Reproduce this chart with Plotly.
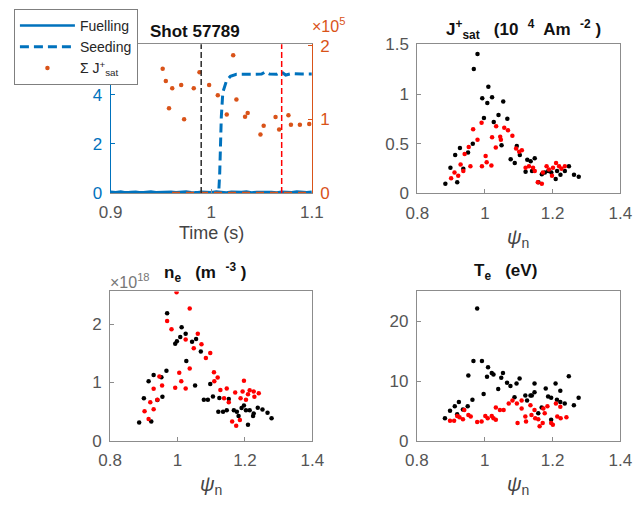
import plotly.graph_objects as go

W, H = 642, 515

# ---------------- data ----------------
# Top-left: time traces (Shot 57789)
fuel_t = [0.900, 0.905, 0.910, 0.915, 0.920, 0.925, 0.930, 0.935, 0.940, 0.945,
          0.950, 0.955, 0.960, 0.965, 0.970, 0.975, 0.980, 0.985, 0.990, 0.995,
          1.000, 1.005, 1.010, 1.015, 1.020, 1.025, 1.030, 1.035, 1.040, 1.045,
          1.050, 1.055, 1.060, 1.065, 1.070, 1.075, 1.080, 1.085, 1.090, 1.095, 1.100]
fuel_v = [0.05, 0.03, 0.06, 0.02, 0.04, 0.05, 0.02, 0.04, 0.06, 0.03,
          0.04, 0.02, 0.05, 0.03, 0.04, 0.06, 0.03, 0.02, 0.05, 0.04,
          0.03, 0.06, 0.04, 0.02, 0.05, 0.03, 0.04, 0.06, 0.02, 0.04,
          0.05, 0.03, 0.04, 0.02, 0.05, 0.04, 0.03, 0.06, 0.04, 0.03, 0.05]

seed_t = [0.900, 0.950, 1.000, 1.0074, 1.0084, 1.0090, 1.0100, 1.0115, 1.0150,
          1.0190, 1.0250, 1.0350, 1.0450, 1.0500, 1.0537, 1.0580, 1.0650,
          1.0696, 1.0740, 1.0800, 1.0900, 1.1000]
seed_v = [0.02, 0.02, 0.02, 0.02, 0.80, 2.00, 3.10, 4.10, 4.55,
          4.75, 4.83, 4.83, 4.82, 4.84, 4.93, 4.84, 4.83,
          4.93, 4.80, 4.86, 4.84, 4.84]

jsum_t = [0.9517, 0.9548, 0.9612, 0.9580, 0.9701, 0.9730, 0.9826, 0.9883, 0.9979,
          1.0065, 1.0154, 1.0218, 1.0250, 1.0336, 1.0362, 1.0489, 1.0521, 1.0639,
          1.0675, 1.0767, 1.0792, 1.0881, 1.0974]
jsum_v = [1.686, 1.521, 1.421, 1.151, 1.464, 1.000, 1.421, 1.639, 1.464,
          1.326, 1.065, 1.868, 1.269, 1.034, 1.086, 0.795, 0.913, 1.030,
          0.860, 1.056, 0.926, 0.926, 0.935]

jzero_t = [0.961, 1.100]
jzero_v = [0.0, 0.0]

event_times = [0.99, 1.07]
event_colors = ["#2b2b2b", "#ff0000"]

# Top-right: J+sat vs psi_n
js_blk_x = [0.883, 0.898, 0.912, 0.918, 0.926, 0.936, 0.950, 0.964, 0.967, 0.978,
            0.992, 0.997, 1.007, 1.010, 1.021, 1.026, 1.040, 1.049, 1.054, 1.066,
            1.076, 1.088, 1.094, 1.103, 1.120, 1.125, 1.135, 1.139, 1.147, 1.158,
            1.168, 1.177, 1.187, 1.196, 1.209, 1.213, 1.223, 1.236, 1.248, 1.263, 1.277]
js_blk_y = [0.097, 0.258, 0.387, 0.113, 0.458, 0.248, 0.413, 0.500, 1.252, 1.403,
            0.958, 0.758, 0.910, 1.074, 0.968, 0.719, 0.790, 0.484, 0.926, 0.752,
            0.345, 0.306, 0.477, 0.387, 0.219, 0.339, 0.323, 0.226, 0.355, 0.113,
            0.194, 0.210, 0.226, 0.210, 0.145, 0.226, 0.187, 0.226, 0.274, 0.187, 0.168]
js_red_x = [0.900, 0.910, 0.921, 0.928, 0.936, 0.940, 0.952, 0.957, 0.965, 0.978,
            0.990, 0.991, 1.002, 1.005, 1.019, 1.021, 1.032, 1.033, 1.045, 1.047,
            1.057, 1.068, 1.081, 1.092, 1.101, 1.109, 1.120, 1.130, 1.142, 1.147,
            1.156, 1.168, 1.171, 1.182, 1.189, 1.201, 1.210, 1.219, 1.226, 1.236, 1.198]
js_red_y = [0.152, 0.210, 0.177, 0.290, 0.226, 0.397, 0.468, 0.274, 0.645, 0.539,
            0.710, 0.274, 0.377, 0.313, 0.281, 0.565, 0.461, 0.677, 0.571, 0.539,
            0.661, 0.635, 0.581, 0.452, 0.419, 0.435, 0.258, 0.274, 0.258, 0.226,
            0.113, 0.097, 0.210, 0.274, 0.242, 0.258, 0.306, 0.274, 0.248, 0.274, 0.177]

# Bottom-left: n_e vs psi_n (x 1e18)
ne_blk_x = [0.886, 0.900, 0.914, 0.922, 0.929, 0.940, 0.952, 0.955, 0.967, 0.969,
            0.993, 0.998, 1.008, 1.012, 1.024, 1.026, 1.043, 1.052, 1.055, 1.069,
            1.078, 1.090, 1.097, 1.105, 1.121, 1.124, 1.135, 1.146, 1.152, 1.167,
            1.176, 1.181, 1.190, 1.197, 1.203, 1.209, 1.214, 1.224, 1.226, 1.238,
            1.252, 1.267, 1.279]
ne_blk_y = [0.314, 0.727, 1.019, 0.331, 1.129, 0.700, 1.091, 0.755, 1.201, 2.187,
            1.664, 1.708, 1.780, 1.945, 1.835, 1.366, 1.697, 0.948, 1.747, 1.532,
            0.705, 0.705, 0.975, 0.760, 0.496, 0.733, 0.496, 0.523, 0.716, 0.523,
            0.496, 0.424, 0.562, 0.606, 0.523, 0.275, 0.523, 0.424, 0.468, 0.567,
            0.534, 0.479, 0.386]
ne_red_x = [0.902, 0.914, 0.919, 0.929, 0.929, 0.940, 0.946, 0.954, 0.969, 0.982,
            0.993, 0.997, 1.005, 1.011, 1.024, 1.024, 1.036, 1.036, 1.048, 1.060,
            1.071, 1.084, 1.097, 1.108, 1.109, 1.119, 1.127, 1.138, 1.146, 1.152,
            1.162, 1.171, 1.174, 1.187, 1.193, 1.197, 1.203, 1.209, 1.214, 1.226,
            1.228, 1.241, 1.185]
ne_red_y = [0.507, 0.375, 0.661, 0.893, 0.540, 0.705, 1.102, 0.948, 2.055, 1.912,
            0.909, 2.545, 1.168, 1.019, 1.736, 0.898, 2.270, 1.240, 1.587, 1.835,
            1.653, 1.421, 1.504, 1.174, 1.019, 1.085, 0.871, 0.727, 0.898, 0.661,
            0.331, 0.826, 0.259, 0.727, 0.843, 1.030, 0.705, 0.799, 0.865, 0.843,
            0.755, 0.815, 0.358]

# Bottom-right: T_e vs psi_n
te_blk_x = [0.883, 0.898, 0.912, 0.919, 0.924, 0.936, 0.950, 0.952, 0.964, 0.967,
            0.978, 0.992, 0.997, 1.007, 1.010, 1.021, 1.026, 1.040, 1.049, 1.054,
            1.066, 1.076, 1.088, 1.094, 1.103, 1.120, 1.125, 1.135, 1.139, 1.147,
            1.147, 1.158, 1.168, 1.180, 1.187, 1.196, 1.196, 1.209, 1.213, 1.223,
            1.223, 1.236, 1.248, 1.263, 1.277]
te_blk_y = [3.78, 5.03, 5.78, 4.43, 6.49, 5.24, 5.78, 10.92, 6.86, 13.35,
            22.16, 13.35, 7.84, 10.70, 12.32, 11.35, 11.08, 8.65, 10.54, 11.35,
            9.73, 9.19, 7.30, 9.57, 10.43, 7.57, 6.76, 7.57, 7.57, 9.57,
            8.11, 4.59, 5.57, 8.76, 7.41, 7.19, 3.51, 9.57, 6.86, 8.38,
            6.49, 6.22, 10.81, 5.95, 7.19]
te_red_x = [0.898, 0.910, 0.919, 0.926, 0.936, 0.940, 0.952, 0.959, 0.978, 0.991,
            1.002, 1.009, 1.021, 1.026, 1.033, 1.033, 1.045, 1.056, 1.071, 1.082,
            1.095, 1.097, 1.109, 1.109, 1.120, 1.122, 1.135, 1.138, 1.147, 1.149,
            1.158, 1.162, 1.171, 1.173, 1.185, 1.196, 1.201, 1.210, 1.214, 1.223,
            1.224, 1.241, 1.177]
te_red_y = [3.35, 3.35, 4.16, 3.95, 3.62, 5.14, 4.32, 4.05, 3.14, 3.24,
            4.16, 3.78, 4.16, 3.78, 3.51, 5.57, 5.14, 5.14, 6.22, 6.76,
            6.22, 2.97, 6.76, 5.41, 4.05, 3.24, 5.95, 4.32, 5.14, 3.78,
            3.62, 2.43, 2.97, 5.41, 5.78, 2.97, 2.70, 6.22, 4.05, 5.68,
            3.78, 3.95, 4.59]

# ---------------- styling ----------------
BLUE = "#0072BD"
ORANGE = "#D95319"
GRAYLINE = "#8c8c8c"
TICKCOL = "#555555"
FONT = "Liberation Sans, Arial, sans-serif"
TICKSIZE = 17


def px_x(a, b):
    return [a / W, b / W]


def px_y(top, bottom):
    return [1 - bottom / H, 1 - top / H]


def ax_common(**kw):
    d = dict(showline=True, linecolor=GRAYLINE, linewidth=1, mirror=True,
             ticks="inside", ticklen=4, tickcolor=GRAYLINE, showgrid=False,
             zeroline=False, ticklabelstandoff=4,
             tickfont=dict(family=FONT, size=TICKSIZE, color=TICKCOL))
    d.update(kw)
    return d


fig = go.Figure()

# --- top-left panel ---
fig.add_trace(go.Scatter(x=fuel_t, y=fuel_v, mode="lines", name="Fuelling",
                         line=dict(color=BLUE, width=2.5), xaxis="x", yaxis="y"))
fig.add_trace(go.Scatter(x=seed_t, y=seed_v, mode="lines", name="Seeding",
                         line=dict(color=BLUE, width=3, dash="9px,5px"),
                         xaxis="x", yaxis="y"))
fig.add_trace(go.Scatter(x=jzero_t, y=jzero_v, mode="lines", showlegend=False,
                         line=dict(color=ORANGE, width=2.5, dash="8px,6px"),
                         xaxis="x", yaxis="y2"))
fig.add_trace(go.Scatter(x=jsum_t, y=jsum_v, mode="markers",
                         name="Σ J<sup>+</sup><sub>sat</sub>",
                         marker=dict(color=ORANGE, size=4.5), xaxis="x", yaxis="y2"))
for t, c in zip(event_times, event_colors):
    fig.add_shape(type="line", xref="x", yref="y domain", x0=t, x1=t, y0=0, y1=1,
                  line=dict(color=c, width=1.5, dash="6px,3px"), layer="above")

# --- top-right panel ---
fig.add_trace(go.Scatter(x=js_blk_x, y=js_blk_y, mode="markers", showlegend=False,
                         marker=dict(color="black", size=4.5), xaxis="x2", yaxis="y3"))
fig.add_trace(go.Scatter(x=js_red_x, y=js_red_y, mode="markers", showlegend=False,
                         marker=dict(color="#ff0000", size=4.5), xaxis="x2", yaxis="y3"))

# --- bottom-left panel ---
fig.add_trace(go.Scatter(x=ne_blk_x, y=ne_blk_y, mode="markers", showlegend=False,
                         marker=dict(color="black", size=4.5), xaxis="x3", yaxis="y4"))
fig.add_trace(go.Scatter(x=ne_red_x, y=ne_red_y, mode="markers", showlegend=False,
                         marker=dict(color="#ff0000", size=4.5), xaxis="x3", yaxis="y4"))

# --- bottom-right panel ---
fig.add_trace(go.Scatter(x=te_blk_x, y=te_blk_y, mode="markers", showlegend=False,
                         marker=dict(color="black", size=4.5), xaxis="x4", yaxis="y5"))
fig.add_trace(go.Scatter(x=te_red_x, y=te_red_y, mode="markers", showlegend=False,
                         marker=dict(color="#ff0000", size=4.5), xaxis="x4", yaxis="y5"))

fig.update_layout(
    width=W, height=H, margin=dict(l=0, r=0, t=0, b=0),
    paper_bgcolor="white", plot_bgcolor="white",
    font=dict(family=FONT, size=14, color="#222222"),
    xaxis=ax_common(domain=px_x(102.5, 311.5), range=[0.9, 1.1],
                    tickvals=[0.9, 1.0, 1.1], ticktext=["0.9", "1", "1.1"], anchor="y"),
    yaxis=ax_common(domain=px_y(36.7, 191), range=[0, 6.05], tickvals=[0, 2, 4, 6],
                    ticktext=["0", "2", "4", ""],
                    linecolor=BLUE, tickcolor=BLUE, mirror=False,
                    tickfont=dict(family=FONT, size=TICKSIZE, color=BLUE), anchor="x"),
    yaxis2=ax_common(overlaying="y", side="right", range=[0, 2.0167], tickvals=[0, 1, 2],
                     linecolor=ORANGE, tickcolor=ORANGE, mirror=False,
                     tickfont=dict(family=FONT, size=TICKSIZE, color=ORANGE), anchor="x"),
    xaxis2=ax_common(domain=px_x(421, 632), range=[0.8, 1.4],
                     tickvals=[0.8, 1.0, 1.2, 1.4], ticktext=["0.8", "1", "1.2", "1.4"],
                     anchor="y3"),
    yaxis3=ax_common(domain=px_y(36.7, 191.5), range=[0, 1.5],
                     tickvals=[0, 0.5, 1, 1.5], ticktext=["0", "0.5", "1", "1.5"],
                     anchor="x2"),
    xaxis3=ax_common(domain=px_x(102, 312), range=[0.8, 1.4],
                     tickvals=[0.8, 1.0, 1.2, 1.4], ticktext=["0.8", "1", "1.2", "1.4"],
                     anchor="y4"),
    yaxis4=ax_common(domain=px_y(293.3, 448.3), range=[0, 2.56], tickvals=[0, 1, 2],
                     anchor="x3"),
    xaxis4=ax_common(domain=px_x(420.5, 632), range=[0.8, 1.4],
                     tickvals=[0.8, 1.0, 1.2, 1.4], ticktext=["0.8", "1", "1.2", "1.4"],
                     anchor="y5"),
    yaxis5=ax_common(domain=px_y(293.3, 448.3), range=[0, 25], tickvals=[0, 10, 20],
                     anchor="x4"),
    legend=dict(x=2 / W, y=1, xanchor="left", yanchor="top",
                bgcolor="white", bordercolor="#7f7f7f", borderwidth=1,
                font=dict(family=FONT, size=14, color="#262626"),
                itemwidth=55, tracegroupgap=0),
)


def ann(text, x, y, size=15, color="#111111", xanchor="center"):
    fig.add_annotation(text=text, x=x / W, y=1 - y / H, xref="paper", yref="paper",
                       showarrow=False, xanchor=xanchor, yanchor="middle",
                       font=dict(family=FONT, size=size, color=color))


# titles
ann("<b>Shot 57789</b>", 190, 23.5, size=17)
ann("<b>J<sup>+</sup><sub>sat</sub>   (10  <sup>4</sup>  Am  <sup>-2</sup> )</b>", 531, 21, size=17)
ann("<b>n<sub>e</sub>   (m  <sup>-3</sup> )</b>", 201, 274, size=17)
ann("<b>T<sub>e</sub>   (eV)</b>", 513, 273, size=17)
# exponent labels
ann("×10<sup>5</sup>", 310, 17, size=16, color=ORANGE, xanchor="left")
ann("×10<sup>18</sup>", 100, 282, size=16, color="#777777", xanchor="left")
# axis labels
ann("Time (s)", 207, 233, size=18, color="#444444")
ann("<i>ψ</i><sub>n</sub>", 526, 238, size=20, color="#444444")
ann("<i>ψ</i><sub>n</sub>", 207, 495, size=20, color="#444444")
ann("<i>ψ</i><sub>n</sub>", 526, 495, size=20, color="#444444")

fig.write_html("out.html")
